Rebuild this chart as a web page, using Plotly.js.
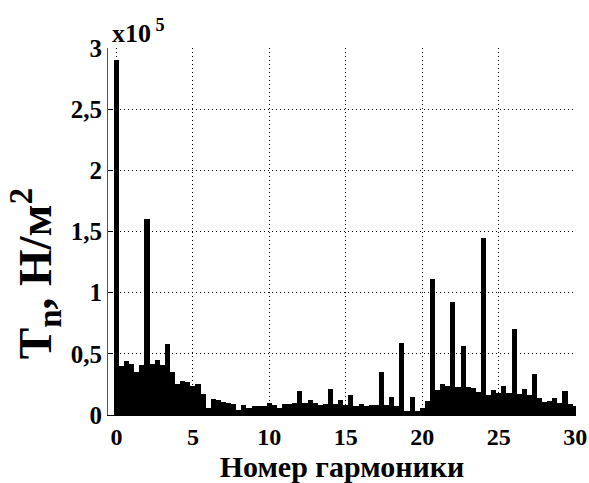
<!DOCTYPE html>
<html>
<head>
<meta charset="utf-8">
<script src="https://cdn.plot.ly/plotly-3.0.1.min.js"></script>
<style>html,body{margin:0;padding:0;background:#fff;}</style>
</head>
<body>
<div id="chart" style="width:589px;height:483px;"></div>
<script>
// Harmonic numbers (step 1/3)
const harmonics = [
  0, 0.333, 0.667, 1, 1.333, 1.667, 2, 2.333, 2.667, 3,
  3.333, 3.667, 4, 4.333, 4.667, 5, 5.333, 5.667, 6, 6.333,
  6.667, 7, 7.333, 7.667, 8, 8.333, 8.667, 9, 9.333, 9.667,
  10, 10.333, 10.667, 11, 11.333, 11.667, 12, 12.333, 12.667, 13,
  13.333, 13.667, 14, 14.333, 14.667, 15, 15.333, 15.667, 16, 16.333,
  16.667, 17, 17.333, 17.667, 18, 18.333, 18.667, 19, 19.333, 19.667,
  20, 20.333, 20.667, 21, 21.333, 21.667, 22, 22.333, 22.667, 23,
  23.333, 23.667, 24, 24.333, 24.667, 25, 25.333, 25.667, 26, 26.333,
  26.667, 27, 27.333, 27.667, 28, 28.333, 28.667, 29, 29.333, 29.667,
  30
];
// Amplitudes, x10^5 N/m^2
const amplitudes = [
  2.90, 0.40, 0.44, 0.42, 0.35, 0.41, 1.60, 0.42, 0.45, 0.41,
  0.58, 0.35, 0.25, 0.28, 0.27, 0.24, 0.25, 0.17, 0.06, 0.13,
  0.12, 0.11, 0.10, 0.09, 0.04, 0.08, 0.06, 0.07, 0.075, 0.07,
  0.10, 0.08, 0.06, 0.09, 0.09, 0.10, 0.20, 0.10, 0.12, 0.10,
  0.08, 0.09, 0.21, 0.09, 0.12, 0.08, 0.16, 0.07, 0.09, 0.07,
  0.08, 0.08, 0.35, 0.08, 0.145, 0.07, 0.59, 0.03, 0.15, 0.03,
  0.06, 0.115, 1.11, 0.205, 0.25, 0.24, 0.925, 0.225, 0.565, 0.225,
  0.22, 0.185, 1.45, 0.16, 0.205, 0.18, 0.24, 0.18, 0.70, 0.17,
  0.21, 0.16, 0.335, 0.14, 0.11, 0.115, 0.14, 0.10, 0.195, 0.09,
  0.07
];
const xTickVals = [0, 5, 10, 15, 20, 25, 30];
const xTickText = ['0', '5', '10', '15', '20', '25', '30'];
const yTickVals = [0, 0.5, 1, 1.5, 2, 2.5, 3];
const yTickText = ['0', '0,5', '1', '1,5', '2', '2,5', '3'];

const serif = 'Liberation Serif';

const trace = {
  type: 'bar',
  x: harmonics,
  y: amplitudes,
  width: 1/3,
  marker: {color: '#000000', line: {width: 0}},
  hoverinfo: 'x+y'
};

const layout = {
  width: 589, height: 483,
  margin: {l: 108, r: 13, t: 48, b: 68},
  paper_bgcolor: '#ffffff', plot_bgcolor: '#ffffff',
  showlegend: false,
  bargap: 0,
  font: {family: serif, color: '#000', size: 24, weight: 'bold'},
  xaxis: {
    range: [-0.55, 30.05],
    tickvals: xTickVals, ticktext: xTickText,
    ticks: 'inside', ticklen: 5, tickcolor: '#000',
    showgrid: true, gridcolor: '#000', griddash: '1px,3px', gridwidth: 1,
    zeroline: false,
    showline: true, linecolor: '#000', linewidth: 1,
    tickfont: {family: serif, size: 24, color: '#000', weight: 'bold'},
    title: {text: 'Номер гармоники', font: {family: serif, size: 30, color: '#000', weight: 'bold'}, standoff: 6}
  },
  yaxis: {
    range: [0, 3],
    tickvals: yTickVals, ticktext: yTickText,
    ticks: 'inside', ticklen: 5, tickcolor: '#000',
    showgrid: true, gridcolor: '#000', griddash: '1px,3px', gridwidth: 1,
    zeroline: false,
    showline: true, linecolor: '#555', linewidth: 1,
    tickfont: {family: serif, size: 25, color: '#000', weight: 'bold'}
  },
  yaxis2: {
    overlaying: 'y', side: 'right', range: [0, 3],
    tickvals: yTickVals, ticks: 'inside', ticklen: 4, tickcolor: '#000',
    showticklabels: false, showgrid: false, zeroline: false, showline: false
  },
  annotations: [
    {
      xref: 'paper', yref: 'paper', x: -0.155, y: 0.385,
      xanchor: 'center', yanchor: 'middle', textangle: -90,
      text: 'T<sub>n</sub>, Н/м<sup>2</sup>', showarrow: false,
      font: {family: serif, size: 47, color: '#000', weight: 'bold'}
    },
    {
      xref: 'paper', yref: 'paper', x: 0.005, y: 1.0,
      xanchor: 'left', yanchor: 'bottom', yshift: -2,
      text: 'x10<sup> 5</sup>', showarrow: false,
      font: {family: serif, size: 26, color: '#000', weight: 'bold'}
    }
  ]
};

Plotly.newPlot('chart', [trace], layout, {displayModeBar: false, staticPlot: true});
</script>
</body>
</html>
